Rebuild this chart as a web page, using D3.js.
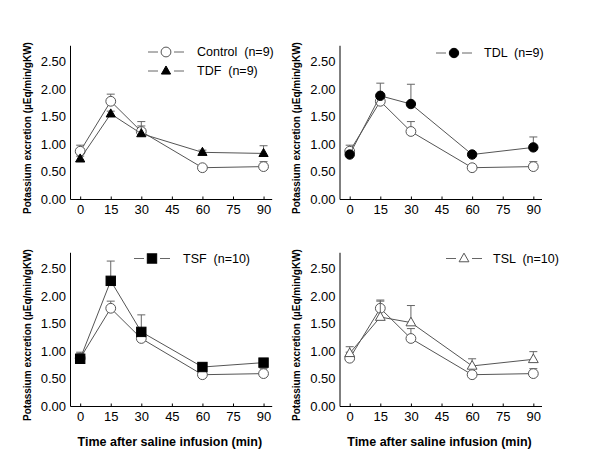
<!DOCTYPE html>
<html>
<head>
<meta charset="utf-8">
<style>
  body { margin: 0; background: #fff; }
  text { font-family: Arial, "Liberation Sans", sans-serif; }
  .axis path, .axis line { stroke: #000; }
  .tick text { font-size: 13px; fill: #000; }
</style>
</head>
<body>
<script src="https://d3js.org/d3.v7.min.js"></script>
<script>
// data
var times = [0, 15, 30, 60, 90];
var xTicks = [0, 15, 30, 45, 60, 75, 90];
var yTicks = [0, 0.5, 1.0, 1.5, 2.0, 2.5];

var control    = [0.87, 1.78, 1.23, 0.57, 0.59];
var controlErr = [0.11, 0.13, 0.18, 0.04, 0.09];
var tdf        = [0.73, 1.55, 1.19, 0.85, 0.83];
var tdfErr     = [0.05, 0.05, 0.14, 0.04, 0.14];
var tdl        = [0.81, 1.88, 1.73, 0.81, 0.94];
var tdlErr     = [0.06, 0.23, 0.36, 0.04, 0.19];
var tsf        = [0.86, 2.28, 1.35, 0.71, 0.79];
var tsfErr     = [0.10, 0.36, 0.31, 0.07, 0.04];
var tsl        = [0.96, 1.62, 1.52, 0.73, 0.85];
var tslErr     = [0.12, 0.31, 0.31, 0.13, 0.14];

var svg = d3.select("body").append("svg")
  .attr("width", 600)
  .attr("height", 462);

var ctrlSeries = {name: "Control  (n=9)", values: control, err: controlErr, shape: "circle", filled: false};

var panels = [
  {left: 70, right: 271.7, bottom: 199, legendY: 52, legendX: 148, textX: 197,
   series: [ctrlSeries, {name: "TDF  (n=9)", values: tdf, err: tdfErr, shape: "triangle", filled: true}],
   legend: [0, 1]},
  {left: 339.5, right: 541.5, bottom: 199, legendY: 53, legendX: 436, textX: 484,
   series: [ctrlSeries, {name: "TDL  (n=9)", values: tdl, err: tdlErr, shape: "circle", filled: true}],
   legend: [1]},
  {left: 70, right: 271.7, bottom: 406, legendY: 258.5, legendX: 134, textX: 183,
   series: [ctrlSeries, {name: "TSF  (n=10)", values: tsf, err: tsfErr, shape: "square", filled: true}],
   legend: [1], xlabel: true},
  {left: 339.5, right: 541.5, bottom: 406, legendY: 258.5, legendX: 446, textX: 493,
   series: [ctrlSeries, {name: "TSL  (n=10)", values: tsl, err: tslErr, shape: "triangle", filled: false}],
   legend: [1], xlabel: true}
];

function marker(g, shape, filled, cx, cy) {
  var fill = filled ? "#000" : "#fff";
  var stroke = filled ? "#000" : "#555";
  if (shape === "circle") {
    g.append("circle").attr("cx", cx).attr("cy", cy).attr("r", filled ? 4.7 : 4.9)
      .attr("fill", fill).attr("stroke", stroke).attr("stroke-width", 1);
  } else if (shape === "square") {
    g.append("rect").attr("x", cx - 4.7).attr("y", cy - 4.7).attr("width", 9.4).attr("height", 9.4)
      .attr("fill", fill).attr("stroke", stroke);
  } else {
    var s = filled ? 9.2 : 9.8;
    var h = s * 0.88;
    g.append("path")
      .attr("d", "M" + cx + "," + (cy - h * 0.62) + "L" + (cx + s / 2) + "," + (cy + h * 0.38) +
                 "L" + (cx - s / 2) + "," + (cy + h * 0.38) + "Z")
      .attr("fill", fill).attr("stroke", stroke).attr("stroke-width", 1);
  }
}

panels.forEach(function(p) {
  var x = d3.scaleLinear().domain([-5, 94]).range([p.left, p.right]);
  var y = d3.scaleLinear().domain([0, 2.8]).range([p.bottom, p.bottom - 2.8 * 54.9]);
  var g = svg.append("g");

  g.append("g").attr("class", "axis")
    .attr("transform", "translate(" + p.left + ",0)")
    .call(d3.axisLeft(y).tickValues(yTicks).tickFormat(d3.format(".2f")).tickSize(0).tickPadding(4).tickSizeOuter(0));

  g.append("g").attr("class", "axis")
    .attr("transform", "translate(0," + p.bottom + ")")
    .call(d3.axisBottom(x).tickValues(xTicks).tickSize(-2.5).tickPadding(6).tickSizeOuter(0))
    .selectAll(".tick text").attr("dy", "0.71em");

  g.append("text")
    .attr("transform", "translate(" + (p.left - 42) + "," + (p.bottom - 71) + ") rotate(-90)")
    .attr("text-anchor", "middle")
    .attr("dominant-baseline", "middle")
    .attr("font-size", "10px")
    .attr("font-weight", "bold")
    .text("Potassium excretion (\u00b5Eq/min/gKW)");

  if (p.xlabel) {
    g.append("text")
      .attr("x", (p.left + p.right) / 2 - 1)
      .attr("y", 446)
      .attr("text-anchor", "middle")
      .attr("font-size", "12.5px")
      .attr("font-weight", "bold")
      .text("Time after saline infusion (min)");
  }

  var line = d3.line()
    .x(function(d, i) { return x(times[i]); })
    .y(function(d) { return y(d); });

  p.series.forEach(function(s) {
    // error bars (upper only)
    s.values.forEach(function(v, i) {
      var cx = x(times[i]), top = y(v + s.err[i]);
      g.append("line").attr("x1", cx).attr("x2", cx).attr("y1", y(v)).attr("y2", top)
        .attr("stroke", "#666").attr("stroke-width", 1);
      g.append("line").attr("x1", cx - 4).attr("x2", cx + 4).attr("y1", top).attr("y2", top)
        .attr("stroke", "#666").attr("stroke-width", 1);
    });
    g.append("path").datum(s.values)
      .attr("fill", "none").attr("stroke", "#555").attr("stroke-width", 1)
      .attr("d", line);
    s.values.forEach(function(v, i) {
      marker(g, s.shape, s.filled, x(times[i]), y(v));
    });
  });

  p.legend.forEach(function(k, j) {
    var s = p.series[k];
    var ly = p.legendY + j * 19;
    var lx = p.legendX;
    g.append("line").attr("x1", lx).attr("x2", lx + 10).attr("y1", ly).attr("y2", ly)
      .attr("stroke", "#666");
    g.append("line").attr("x1", lx + 26).attr("x2", lx + 36).attr("y1", ly).attr("y2", ly)
      .attr("stroke", "#666");
    marker(g, s.shape, s.filled, lx + 18, ly);
    g.append("text").attr("x", p.textX).attr("y", ly).attr("dy", "0.35em")
      .attr("font-size", "12.5px").text(s.name).style("white-space", "pre");
  });
});
</script>
</body>
</html>
